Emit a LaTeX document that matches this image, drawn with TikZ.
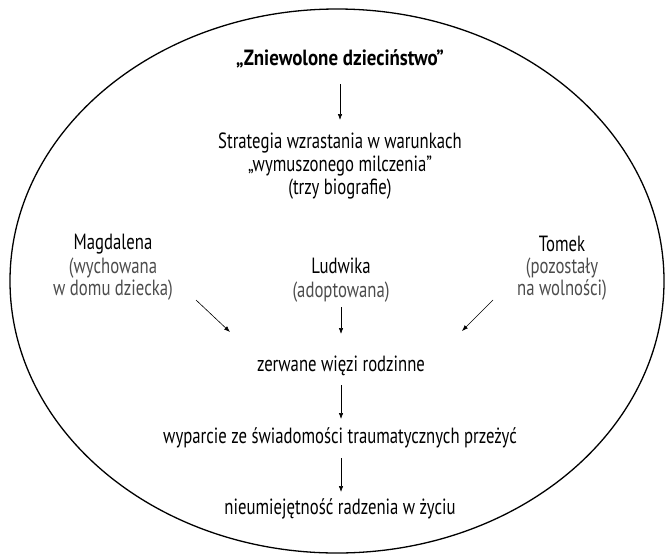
\documentclass[tikz,border=0pt]{standalone}
\usepackage{fontspec}
\setmainfont{PT Sans}[FakeStretch=0.76]
\newfontfamily\titlefont{PT Sans}[FakeStretch=0.86]
\usetikzlibrary{arrows.meta}
\begin{document}
\begin{tikzpicture}[x=1pt,y=-1pt,
  txt/.style={font=\fontsize{22}{23}\selectfont, align=center, inner sep=0pt},
  ttl/.style={font=\fontsize{22}{23}\selectfont\titlefont\bfseries, align=center, inner sep=0pt},
  lite/.style={font=\fontsize{22}{21.5}\selectfont, text=black!70, align=center, inner sep=0pt},
  arr/.style={-{Latex[length=6pt,width=4.5pt]}, line width=0.6pt}]
\useasboundingbox (0,0) rectangle (666,555);
\clip (0,0) rectangle (666,555);
\draw[line width=1.3pt] (337,281) ellipse [x radius=327, y radius=272];

\node[ttl] (title) at (340,59) {„Zniewolone dzieciństwo”};
\node[txt] (strat) at (340,166) {Strategia wzrastania w warunkach\\„wymuszonego milczenia”\\(trzy biografie)};

\node[txt] (magd) at (113,244) {Magdalena};
\node[lite,anchor=north] (magdn) at (113,258) {(wychowana\\w domu dziecka)};
\node[txt] (ludw) at (341,266) {Ludwika};
\node[lite,anchor=north] (ludwn) at (341,282) {(adoptowana)};
\node[txt] (tom) at (562,244) {Tomek};
\node[lite,anchor=north] (tomn) at (562,258) {(pozostały\\na wolności)};

\node[txt] (zerw) at (341,366) {zerwane więzi rodzinne};
\node[txt] (wypa) at (340,438) {wyparcie ze świadomości traumatycznych przeżyć};
\node[txt] (nieu) at (340,509) {nieumiejętność radzenia w życiu};

\coordinate (a1s) at (340,84);  \coordinate (a1e) at (340,120);
\coordinate (a2s) at (196,300); \coordinate (a2e) at (230,332);
\coordinate (a3s) at (341,307); \coordinate (a3e) at (341,334);
\coordinate (a4s) at (493,300); \coordinate (a4e) at (462,331);
\coordinate (a5s) at (341,385); \coordinate (a5e) at (341,419);
\coordinate (a6s) at (341,458); \coordinate (a6e) at (341,492);

\draw[arr] (a1s) -- (a1e);
\draw[arr] (a2s) -- (a2e);
\draw[arr] (a3s) -- (a3e);
\draw[arr] (a4s) -- (a4e);
\draw[arr] (a5s) -- (a5e);
\draw[arr] (a6s) -- (a6e);
\end{tikzpicture}
\end{document}
